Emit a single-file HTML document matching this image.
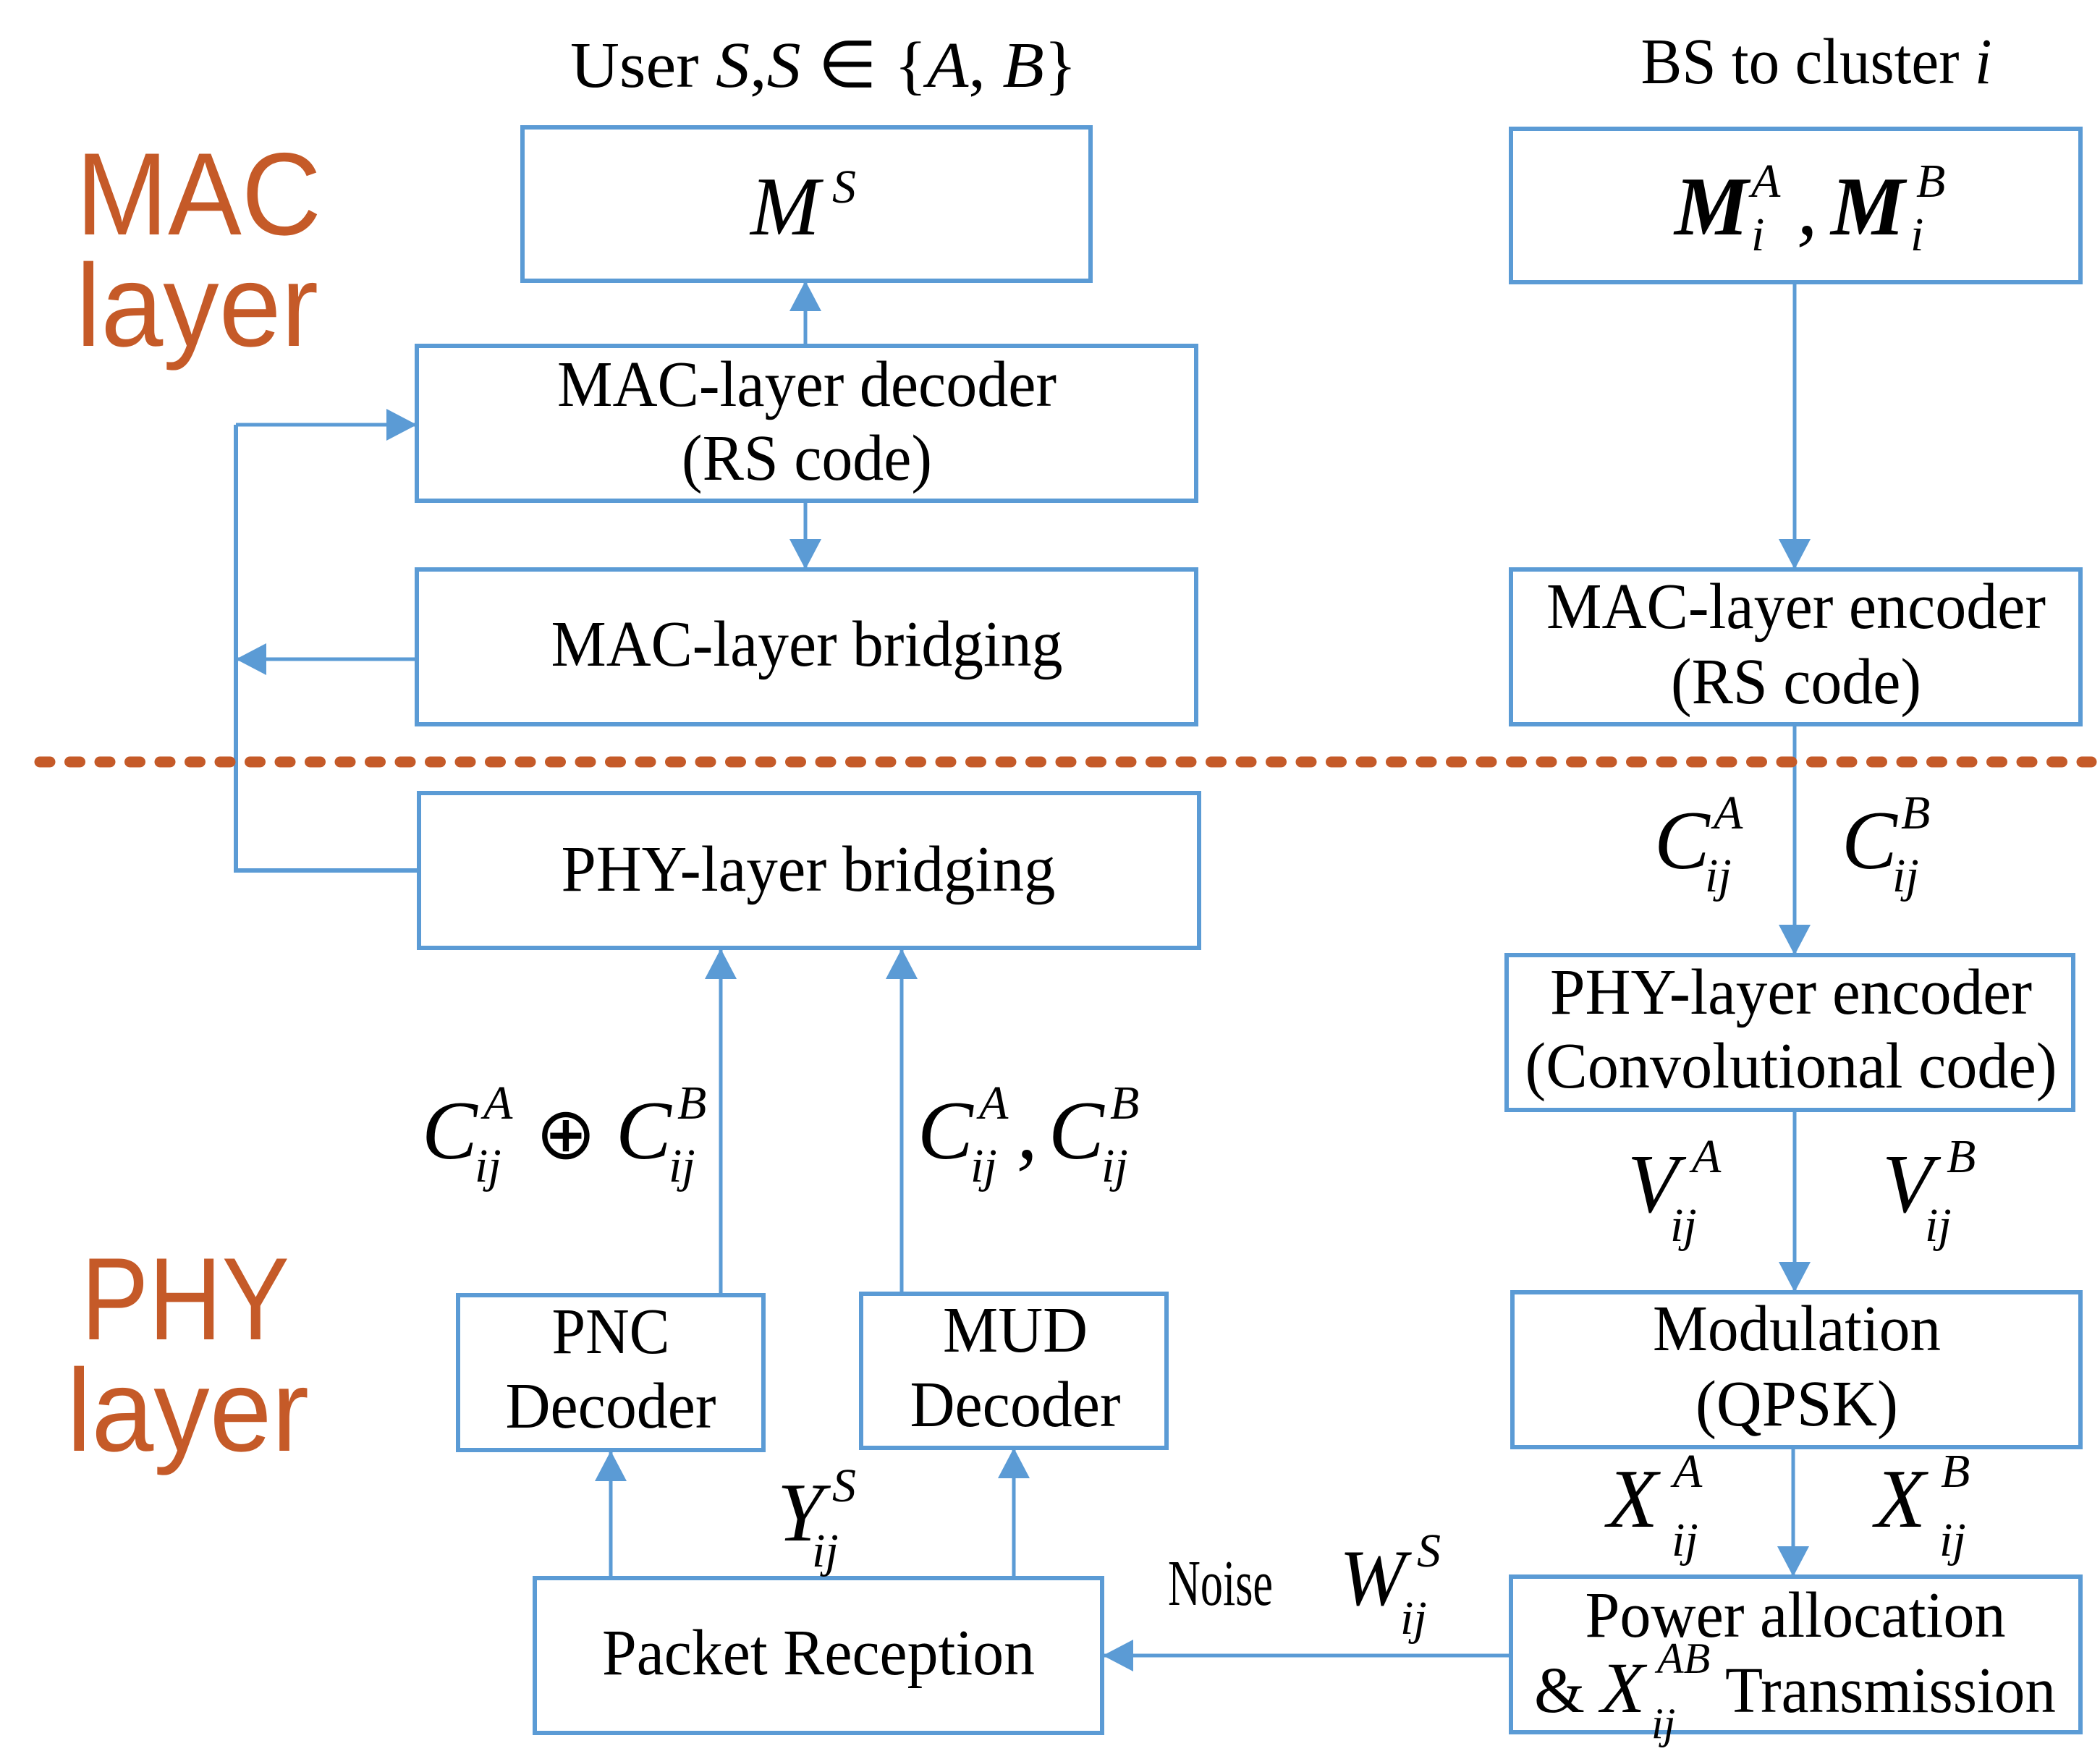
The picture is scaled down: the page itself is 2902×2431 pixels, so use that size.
<!DOCTYPE html>
<html><head><meta charset="utf-8"><style>
html,body{margin:0;padding:0;background:#fff;}
svg{display:block}
.t{font-family:"Liberation Serif",serif;font-size:90px;fill:#000}
.c{text-anchor:middle}
.m{font-family:"Liberation Serif",serif;font-style:italic;fill:#000}
.o{font-family:"Liberation Sans",sans-serif;fill:#C55A28}
</style></head><body>
<svg width="2902" height="2431" viewBox="0 0 2902 2431" xmlns="http://www.w3.org/2000/svg">
<defs>
<marker id="a" markerUnits="userSpaceOnUse" markerWidth="44" markerHeight="44" refX="40" refY="22" orient="auto">
<path d="M0,0 L42,22 L0,44 Z" fill="#5B9BD5"/></marker>
</defs>
<g fill="none" stroke="#5B9BD5" stroke-width="6">
<rect x="722" y="176" width="785" height="212"/>
<rect x="2088" y="178" width="787" height="212"/>
<rect x="576" y="478" width="1077" height="214"/>
<rect x="576" y="787" width="1077" height="214"/>
<rect x="2088" y="787" width="787" height="214"/>
<rect x="579" y="1096" width="1078" height="214"/>
<rect x="2082" y="1320" width="783" height="214"/>
<rect x="633" y="1790" width="422" height="214"/>
<rect x="1190" y="1788" width="422" height="213"/>
<rect x="2090" y="1786" width="785" height="214"/>
<rect x="739" y="2181" width="784" height="214"/>
<rect x="2088" y="2179" width="787" height="215"/>
</g>
<g fill="none" stroke="#5B9BD5" stroke-width="5" marker-end="url(#a)">
<line x1="1113" y1="478" x2="1113" y2="390"/>
<line x1="1113" y1="692" x2="1113" y2="785"/>
<line x1="2480" y1="390" x2="2480" y2="785"/>
<line x1="2480" y1="1001" x2="2480" y2="1318"/>
<line x1="2480" y1="1534" x2="2480" y2="1784"/>
<line x1="2478" y1="2000" x2="2478" y2="2177"/>
<line x1="996" y1="1790" x2="996" y2="1313"/>
<line x1="1246" y1="1788" x2="1246" y2="1313"/>
<line x1="844" y1="2181" x2="844" y2="2007"/>
<line x1="1401" y1="2181" x2="1401" y2="2003"/>
<line x1="2088" y1="2288" x2="1526" y2="2288"/>
<line x1="326" y1="587" x2="574" y2="587"/>
<line x1="576" y1="911" x2="328" y2="911"/>
</g>
<polyline points="579,1203 326,1203 326,587" fill="none" stroke="#5B9BD5" stroke-width="6"/>
<line x1="55" y1="1053" x2="2890" y2="1053" stroke="#C55A28" stroke-width="15" stroke-linecap="round" stroke-dasharray="14 27.5"/>

<text class="o" x="105" y="324" font-size="162" textLength="339" lengthAdjust="spacingAndGlyphs">MAC</text>
<text class="o" x="105" y="478" font-size="162" textLength="335" lengthAdjust="spacingAndGlyphs">layer</text>
<text class="o" x="112" y="1851" font-size="162" textLength="288" lengthAdjust="spacingAndGlyphs">PHY</text>
<text class="o" x="92" y="2005" font-size="162" textLength="335" lengthAdjust="spacingAndGlyphs">layer</text>

<text class="t c" x="1138" y="120" font-size="85" textLength="700" lengthAdjust="spacingAndGlyphs">User <tspan font-style="italic">S</tspan>,<tspan font-style="italic">S</tspan> ∈ {<tspan font-style="italic">A</tspan>, <tspan font-style="italic">B</tspan>}</text>
<text class="t c" x="2510" y="115" font-size="85" textLength="485" lengthAdjust="spacingAndGlyphs">BS to cluster <tspan font-style="italic">i</tspan></text>

<text class="m" x="1037" y="324" font-size="115">M</text><text class="m" x="1150" y="280" font-size="66">S</text>
<text class="m" x="2314" y="324" font-size="115" font-weight="bold">M</text><text class="m" x="2420" y="272" font-size="66">A</text><text class="m" x="2420" y="346" font-size="66">i</text>
<text class="m" x="2483" y="324" font-size="115">,</text>
<text class="m" x="2530" y="324" font-size="115" font-weight="bold">M</text><text class="m" x="2648" y="272" font-size="66">B</text><text class="m" x="2640" y="346" font-size="66">i</text>

<text class="t c" x="1115" y="561" textLength="690" lengthAdjust="spacingAndGlyphs">MAC-layer decoder</text>
<text class="t c" x="1115" y="663" textLength="346" lengthAdjust="spacingAndGlyphs">(RS code)</text>
<text class="t c" x="1115" y="920" textLength="707" lengthAdjust="spacingAndGlyphs">MAC-layer bridging</text>
<text class="t c" x="2482" y="868" textLength="690" lengthAdjust="spacingAndGlyphs">MAC-layer encoder</text>
<text class="t c" x="2482" y="972" textLength="346" lengthAdjust="spacingAndGlyphs">(RS code)</text>
<text class="t c" x="1117" y="1231" textLength="683" lengthAdjust="spacingAndGlyphs">PHY-layer bridging</text>
<text class="t c" x="2475" y="1401" textLength="666" lengthAdjust="spacingAndGlyphs">PHY-layer encoder</text>
<text class="t c" x="2475" y="1503" textLength="735" lengthAdjust="spacingAndGlyphs">(Convolutional code)</text>
<text class="t c" x="844" y="1870" textLength="163" lengthAdjust="spacingAndGlyphs">PNC</text>
<text class="t c" x="844" y="1973" textLength="291" lengthAdjust="spacingAndGlyphs">Decoder</text>
<text class="t c" x="1403" y="1868" textLength="200" lengthAdjust="spacingAndGlyphs">MUD</text>
<text class="t c" x="1403" y="1971" textLength="291" lengthAdjust="spacingAndGlyphs">Decoder</text>
<text class="t c" x="2483" y="1866" textLength="398" lengthAdjust="spacingAndGlyphs">Modulation</text>
<text class="t c" x="2483" y="1970" textLength="280" lengthAdjust="spacingAndGlyphs">(QPSK)</text>
<text class="t c" x="1131" y="2314" textLength="598" lengthAdjust="spacingAndGlyphs">Packet Reception</text>
<text class="t c" x="2481" y="2262" textLength="581" lengthAdjust="spacingAndGlyphs">Power allocation</text>
<text class="t" x="2120" y="2366">&amp;</text>
<text class="m" x="2212" y="2366" font-size="100">X</text><text class="m" x="2290" y="2312" font-size="60">AB</text><text class="m" x="2282" y="2402" font-size="60">ij</text>
<text class="t" x="2384" y="2366" textLength="457" lengthAdjust="spacingAndGlyphs">Transmission</text>

<text class="m" x="2286" y="1200" font-size="115">C</text><text class="m" x="2368" y="1145" font-size="66">A</text><text class="m" x="2356" y="1232" font-size="66">ij</text>
<text class="m" x="2545" y="1200" font-size="115">C</text><text class="m" x="2627" y="1145" font-size="66">B</text><text class="m" x="2615" y="1232" font-size="66">ij</text>
<text class="m" x="2249" y="1675" font-size="115">V</text><text class="m" x="2338" y="1620" font-size="66">A</text><text class="m" x="2308" y="1715" font-size="66">ij</text>
<text class="m" x="2601" y="1675" font-size="115">V</text><text class="m" x="2690" y="1620" font-size="66">B</text><text class="m" x="2660" y="1715" font-size="66">ij</text>
<text class="m" x="2221" y="2110" font-size="115">X</text><text class="m" x="2312" y="2055" font-size="66">A</text><text class="m" x="2310" y="2150" font-size="66">ij</text>
<text class="m" x="2591" y="2110" font-size="115">X</text><text class="m" x="2682" y="2055" font-size="66">B</text><text class="m" x="2680" y="2150" font-size="66">ij</text>

<text class="m" x="583" y="1601" font-size="115">C</text><text class="m" x="668" y="1546" font-size="66">A</text><text class="m" x="656" y="1633" font-size="66">ij</text>
<text x="740" y="1601" font-size="100" font-family="DejaVu Sans,sans-serif">⊕</text>
<text class="m" x="851" y="1601" font-size="115">C</text><text class="m" x="936" y="1546" font-size="66">B</text><text class="m" x="924" y="1633" font-size="66">ij</text>
<text class="m" x="1268" y="1601" font-size="115">C</text><text class="m" x="1353" y="1546" font-size="66">A</text><text class="m" x="1341" y="1633" font-size="66">ij</text>
<text class="m" x="1405" y="1601" font-size="115">,</text>
<text class="m" x="1449" y="1601" font-size="115">C</text><text class="m" x="1534" y="1546" font-size="66">B</text><text class="m" x="1522" y="1633" font-size="66">ij</text>

<text class="m" x="1074" y="2129" font-size="115">Y</text><text class="m" x="1150" y="2075" font-size="66">S</text><text class="m" x="1122" y="2165" font-size="66">ij</text>
<text class="t" x="1614" y="2218" font-size="85" textLength="145" lengthAdjust="spacingAndGlyphs">Noise</text>
<text class="m" x="1851" y="2218" font-size="110">W</text><text class="m" x="1958" y="2165" font-size="66">S</text><text class="m" x="1935" y="2258" font-size="66">ij</text>
</svg>
</body></html>
